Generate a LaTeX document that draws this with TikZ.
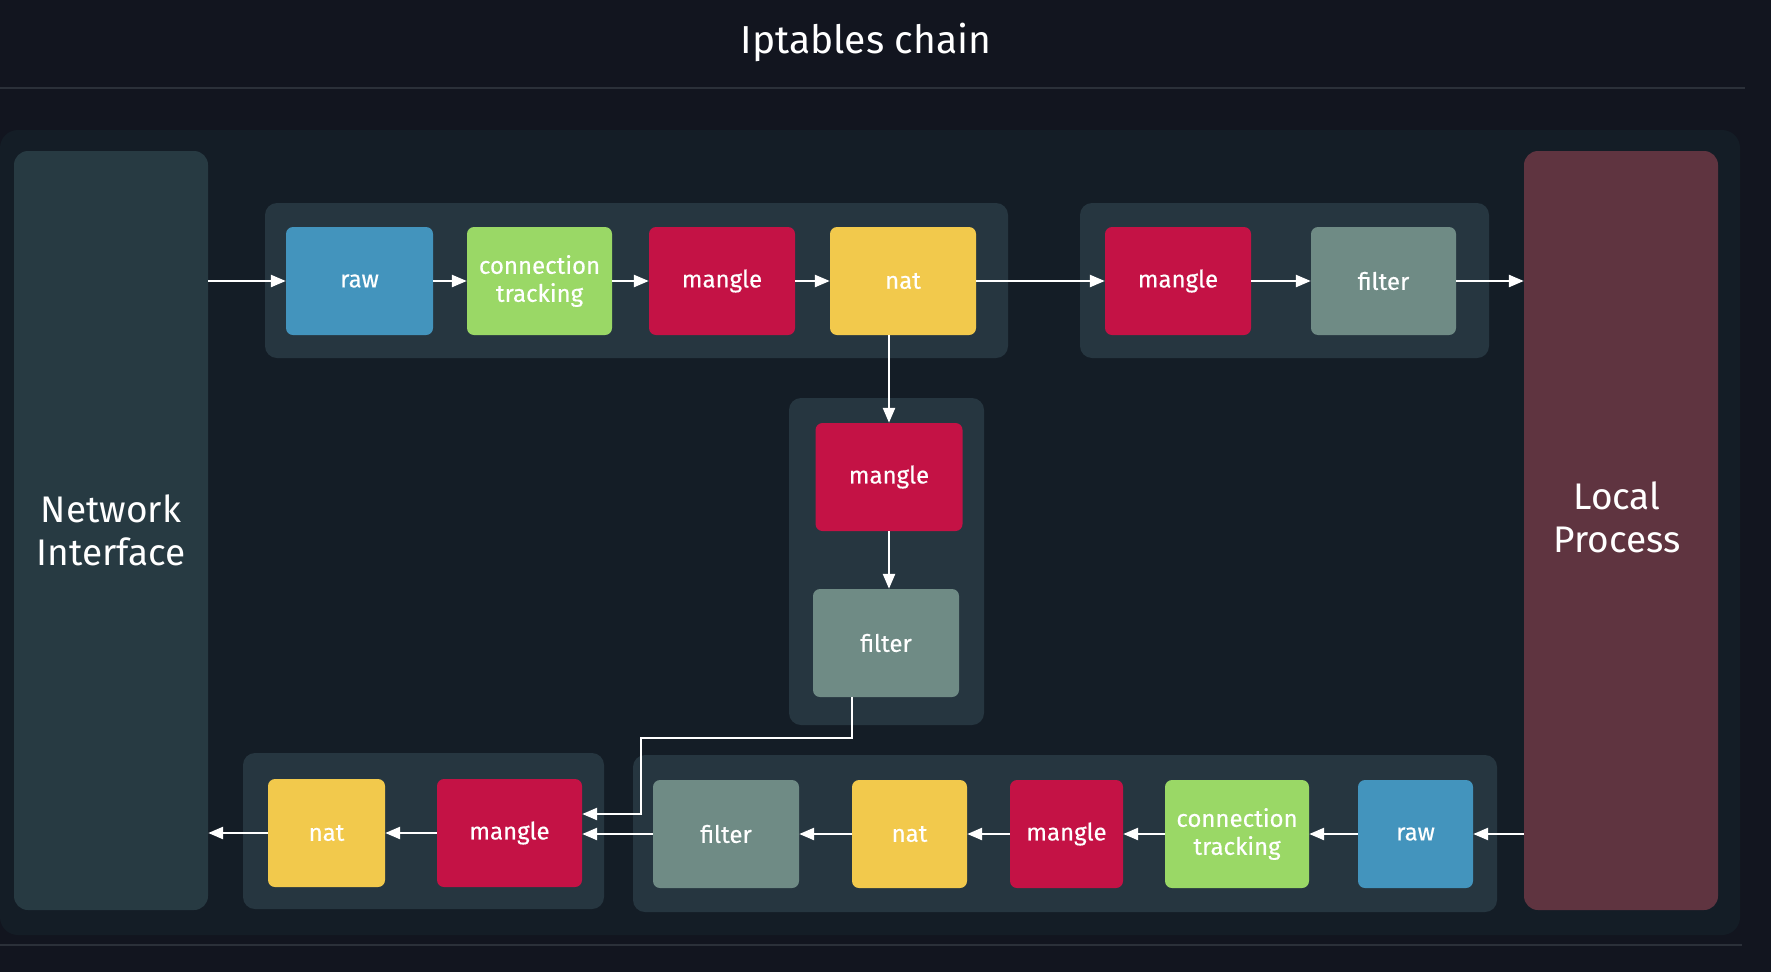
\documentclass[tikz,border=0pt]{standalone}
\usepackage{fontspec}
\setmainfont{Fira Sans}
\newfontfamily\boxfont{Fira Sans}[FakeBold=0.4]
\usetikzlibrary{arrows.meta,calc}
\definecolor{bgc}{HTML}{12151F}
\definecolor{panelc}{HTML}{141D26}
\definecolor{grpc}{HTML}{263640}
\definecolor{nic}{HTML}{273A42}
\definecolor{lpc}{HTML}{5F3440}
\definecolor{sepc}{HTML}{2B3039}
\definecolor{rawc}{HTML}{4394BD}
\definecolor{ctc}{HTML}{9AD866}
\definecolor{mgc}{HTML}{C41245}
\definecolor{natc}{HTML}{F2C94C}
\definecolor{fic}{HTML}{6F8B85}
\tikzset{
  box/.style={rounded corners=7pt, minimum width=146pt, minimum height=108pt, inner sep=0pt,
    text=white, font=\boxfont\fontsize{24}{28}\selectfont, align=center},
  rawbox/.style={box, fill=rawc},
  ctbox/.style={box, fill=ctc},
  mgbox/.style={box, fill=mgc},
  natbox/.style={box, fill=natc},
  fibox/.style={box, fill=fic},
  grp/.style={fill=grpc, rounded corners=12pt, inner sep=0pt},
  side/.style={rounded corners=14pt, inner sep=0pt, minimum width=194pt, minimum height=759pt,
    text=white, font=\fontsize{37}{43}\selectfont, align=center},
  arr/.style={draw=white, line width=2.5pt, -{Triangle[length=15pt,width=12pt]}},
  sep/.style={draw=sepc, line width=2pt}
}
\begin{document}
\begin{tikzpicture}[x=1pt,y=-1pt]
\fill[bgc] (0,0) rectangle (1771,972);
\useasboundingbox (0,0) rectangle (1771,972);
% title
\node[text=white, font=\fontsize{39}{44}\selectfont] (title) at (866,42) {Iptables chain};
\coordinate (s1a) at (0,88); \coordinate (s1b) at (1745,88);
\draw[sep] (s1a) -- (s1b);
\coordinate (s2a) at (0,945); \coordinate (s2b) at (1742,945);
\draw[sep] (s2a) -- (s2b);
% panel
\fill[panelc, rounded corners=18pt] (0,130) rectangle (1740,935);
% side boxes
\node[side, fill=nic] (ni) at (111,530.5) {Network\\Interface};
\node[side, fill=lpc] (lp) at (1621,530.5) {};
\node[text=white, font=\fontsize{37}{43}\selectfont, align=center] (lpt) at (1617,517) {Local\\Process};
% groups
\node[grp, minimum width=743pt, minimum height=155pt] (g1) at (636.5,280.5) {};
\node[grp, minimum width=409pt, minimum height=155pt] (g2) at (1284.5,280.5) {};
\node[grp, minimum width=195pt, minimum height=327pt] (g3) at (886.5,561.5) {};
\node[grp, minimum width=361pt, minimum height=156pt] (g4) at (423.5,831) {};
\node[grp, minimum width=864pt, minimum height=157pt] (g5) at (1065,833.5) {};
% top row
\node[rawbox, minimum width=147pt] (raw1) at (359.5,281) {raw};
\node[ctbox, minimum width=145pt] (ct1) at (539.5,281) {connection\\tracking};
\node[mgbox] (mg1) at (722,281) {mangle};
\node[natbox] (nat1) at (903,281) {nat};
\node[mgbox] (mg2) at (1178,281) {mangle};
\node[fibox, minimum width=145pt] (fi2) at (1383.5,281) {filter};
% middle
\node[mgbox, minimum width=147pt] (mg3) at (889,477) {mangle};
\node[fibox] (fi3) at (886,643) {filter};
% bottom row
\node[natbox, minimum width=117pt] (nat4) at (326.5,833) {nat};
\node[mgbox, minimum width=145pt] (mg4) at (509.5,833) {mangle};
\node[fibox] (fi5) at (726,834) {filter};
\node[natbox, minimum width=115pt] (nat5) at (909.5,834) {nat};
\node[mgbox, minimum width=113pt] (mg5) at (1066.5,834) {mangle};
\node[ctbox, minimum width=144pt] (ct5) at (1237,834) {connection\\tracking};
\node[rawbox, minimum width=115pt] (raw5) at (1415.5,834) {raw};
% top arrows
\draw[arr] (ni.east |- raw1.west) -- (raw1.west);
\draw[arr] (raw1) -- (ct1);
\draw[arr] (ct1) -- (mg1);
\draw[arr] (mg1) -- (nat1);
\draw[arr] (nat1) -- (mg2);
\draw[arr] (mg2) -- (fi2);
\draw[arr] (fi2.east) -- (lp.west |- fi2.east);
% middle arrows
\draw[arr] (mg3.north |- nat1.south) -- (mg3.north);
\draw[arr] (mg3.south) -- (mg3.south |- fi3.north);
\coordinate (bend) at (641,738);
\draw[arr] ([xshift=-34pt]fi3.south) |- (bend) |- ([yshift=19pt]mg4.east);
% bottom arrows
\draw[arr] (lp.west |- raw5.east) -- (raw5.east);
\draw[arr] (raw5) -- (ct5);
\draw[arr] (ct5) -- (mg5);
\draw[arr] (mg5) -- (nat5);
\draw[arr] (nat5) -- (fi5);
\draw[arr] (fi5.west) -- (mg4.east |- fi5.west);
\draw[arr] (mg4) -- (nat4);
\draw[arr] (nat4.west) -- (ni.east |- nat4.west);
\end{tikzpicture}
\end{document}
